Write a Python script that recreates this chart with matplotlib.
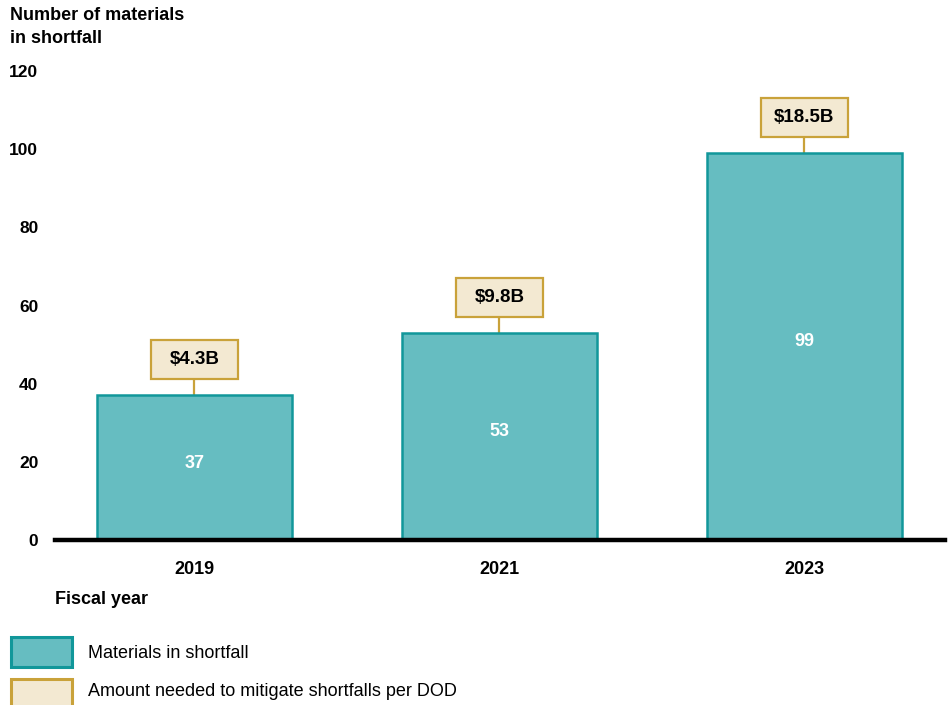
import matplotlib
matplotlib.use("Agg")
import matplotlib.pyplot as plt
from matplotlib.patches import Rectangle

plt.rcParams['font.family'] = ['Liberation Sans', 'DejaVu Sans']

years = ["2019", "2021", "2023"]
materials = [37, 53, 99]
amounts = ["$4.3B", "$9.8B", "$18.5B"]
yticks = [0, 20, 40, 60, 80, 100, 120]

W, H = 948, 705
fig = plt.figure(figsize=(W / 100, H / 100), dpi=100)
ax_l, ax_r, ax_b, ax_t = 55, 945, 540, 71
ax = fig.add_axes([ax_l / W, 1 - ax_b / H, (ax_r - ax_l) / W, (ax_b - ax_t) / H])

teal_fill = "#66BDC1"
teal_edge = "#11979A"
beige_fill = "#F3E9D2"
gold_edge = "#C9A23A"

x = list(range(len(years)))
ax.bar(x, materials, width=0.64, color=teal_fill, edgecolor=teal_edge, linewidth=1.8, zorder=2)
ax.set_xlim(-0.457, 2.461)
ax.set_ylim(0, 120)

# pixel-to-data scale
px_y = 120 / (ax_b - ax_t)
px_x = (2.461 + 0.457) / (ax_r - ax_l)

for xi, v, a in zip(x, materials, amounts):
    ax.text(xi, v / 2 + 1.2, str(v), ha="center", va="center", color="white",
            fontsize=13, fontweight="bold", zorder=3)
    gap = 16 * px_y
    bh = 39 * px_y
    bw = 87 * px_x
    ax.plot([xi, xi], [v, v + gap], color=gold_edge, lw=1.6, zorder=1, clip_on=False)
    ax.add_patch(Rectangle((xi - bw / 2, v + gap), bw, bh, facecolor=beige_fill,
                           edgecolor=gold_edge, lw=1.6, zorder=3, clip_on=False))
    ax.text(xi, v + gap + bh / 2, a, ha="center", va="center", fontsize=13.5,
            fontweight="bold", color="black", zorder=4, clip_on=False)

ax.set_yticks(yticks)
ax.set_yticklabels([str(t) for t in yticks], fontsize=12.5, fontweight="bold")
ax.set_xticks(x)
ax.set_xticklabels(years, fontsize=13, fontweight="bold")
ax.tick_params(axis="y", length=0, pad=12)
ax.tick_params(axis="x", length=0, pad=15)
for s in ["top", "right", "left"]:
    ax.spines[s].set_visible(False)
ax.spines["bottom"].set_linewidth(3.2)
ax.spines["bottom"].set_color("black")
ax.spines["bottom"].set_zorder(5)

fig.text(10 / W, 1 - 7 / H, "Number of materials\nin shortfall", ha="left", va="top",
         fontsize=13, fontweight="bold", linespacing=1.45)
fig.text(55 / W, 1 - 599 / H, "Fiscal year", ha="left", va="center",
         fontsize=13, fontweight="bold")

# legend
fig.patches.append(Rectangle((11 / W, 1 - 667 / H), 61 / W, 30 / H, transform=fig.transFigure,
                             facecolor=teal_fill, edgecolor=teal_edge, lw=2.2))
fig.patches.append(Rectangle((11 / W, 1 - 710 / H), 61 / W, 31 / H, transform=fig.transFigure,
                             facecolor=beige_fill, edgecolor=gold_edge, lw=2.2))
fig.text(88 / W, 1 - 653 / H, "Materials in shortfall", ha="left", va="center", fontsize=13)
fig.text(88 / W, 1 - 692 / H, "Amount needed to mitigate shortfalls per DOD", ha="left",
         va="center", fontsize=13)

fig.savefig("out.png", dpi=100)
